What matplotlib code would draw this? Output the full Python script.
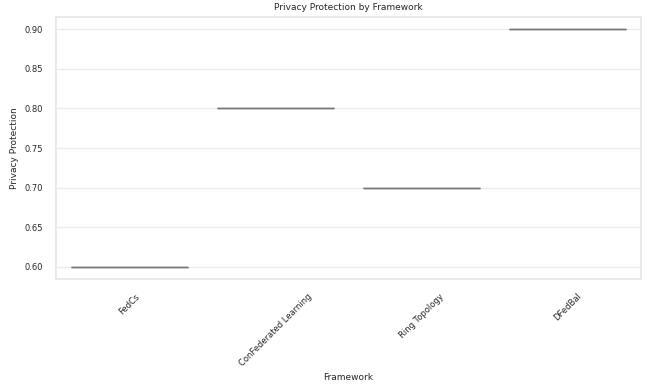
import matplotlib as mpl

mpl.use("Agg")

import matplotlib.pyplot as plt
import seaborn as sns

frameworks = ["FedCs", "ConFederated Learning", "Ring Topology", "DFedBal"]
privacy = [0.60, 0.80, 0.70, 0.90]

sns.set_theme(style="whitegrid")
plt.rcParams["font.family"] = ["DejaVu Sans"]

fig, ax = plt.subplots(figsize=(6.59, 3.87), dpi=100)
sns.boxplot(x=frameworks, y=privacy, color="white", linecolor="0.45",
            linewidth=1.0, whis=0, showcaps=False, ax=ax)
ax.set_title("Privacy Protection by Framework", fontsize=6.5, pad=5)
ax.set_xlabel("Framework", fontsize=6.5)
ax.set_ylabel("Privacy Protection", fontsize=6.5)
ax.tick_params(axis="both", labelsize=6)
plt.setp(ax.get_xticklabels(), rotation=45)
ax.xaxis.grid(False)
ax.yaxis.grid(True, color="0.92")
for s in ax.spines.values():
    s.set_color("0.9")
fig.subplots_adjust(left=0.085, right=0.972, top=0.955, bottom=0.28)
fig.savefig("out.png", dpi=100)
